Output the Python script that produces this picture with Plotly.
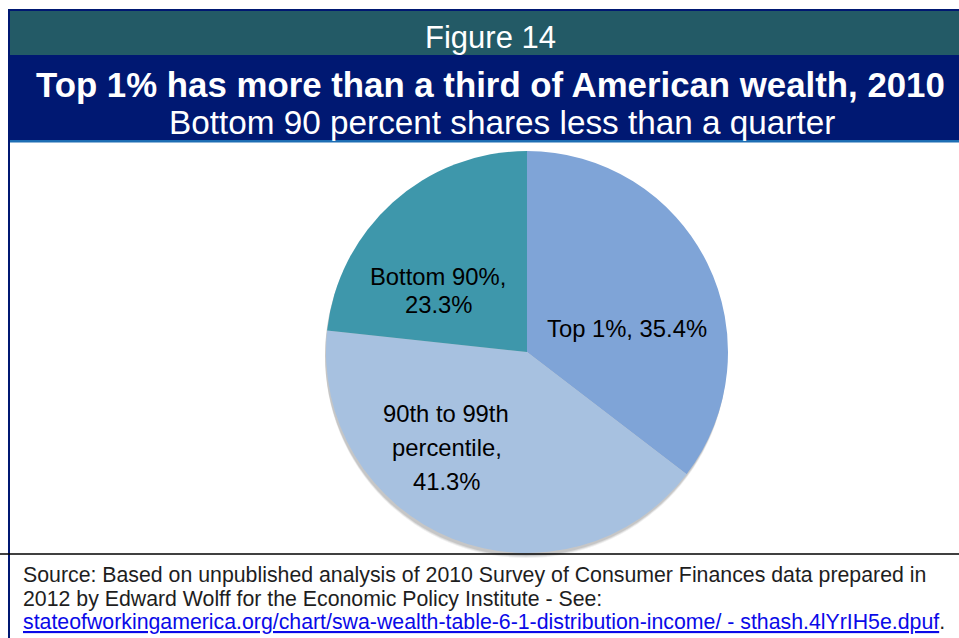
import plotly.graph_objects as go

# ---- data ----
categories = ["Top 1%", "90th to 99th percentile", "Bottom 90%"]
shares = [35.4, 41.3, 23.3]
slice_colors = ["#7FA4D7", "#A7C1E0", "#3E97AB"]

figure_label = "Figure 14"
title_text = "Top 1% has more than a third of American wealth, 2010"
subtitle_text = "Bottom 90 percent shares less than a quarter"
source_lines = [
    "Source: Based on unpublished analysis of 2010 Survey of Consumer Finances data prepared in",
    "2012 by Edward Wolff for the Economic Policy Institute - See:",
]
source_link = "stateofworkingamerica.org/chart/swa-wealth-table-6-1-distribution-income/ - sthash.4lYrIH5e.dpuf"

# label line layout (text lines built from data; positions are styling)
label_lines = [
    [f"{categories[0]}, {shares[0]}%"],
    ["90th to 99th", "percentile,", f"{shares[1]}%"],
    [f"{categories[2]},", f"{shares[2]}%"],
]
label_line_pos = [
    [(627, 328)],
    [(446, 413), (447, 447), (446, 482)],
    [(438, 276), (438, 304)],
]

W, H = 959, 638
def px(x):
    return x / W
def py(y):
    return 1 - y / H

FONT = "Liberation Sans, Arial, Helvetica, sans-serif"

cx, cy, r = 527, 352, 201

fig = go.Figure()
fig.add_trace(go.Pie(
    labels=categories,
    values=shares,
    textinfo="none",
    sort=False,
    direction="clockwise",
    rotation=0,
    marker=dict(colors=slice_colors, line=dict(width=0)),
    domain=dict(x=[px(cx - r), px(cx + r)], y=[py(cy + r), py(cy - r)]),
    showlegend=False,
    hoverinfo="label+percent",
))

shapes = []
# pie shadow
for off, op in [(5, 0.06), (4, 0.08), (3, 0.10)]:
    shapes.append(dict(type="circle", xref="paper", yref="paper", layer="below",
                       x0=px(cx - r - 1), x1=px(cx + r - 1), y0=py(cy + r + off), y1=py(cy - r + off),
                       fillcolor=f"rgba(0,0,0,{op})", line=dict(width=0)))
# header bands
shapes.append(dict(type="rect", xref="paper", yref="paper", layer="below",
                   x0=px(8), x1=1, y0=py(55), y1=py(9), fillcolor="#235A66", line=dict(width=0)))
shapes.append(dict(type="rect", xref="paper", yref="paper", layer="below",
                   x0=px(8), x1=1, y0=py(140), y1=py(55), fillcolor="#001872", line=dict(width=0)))
shapes.append(dict(type="rect", xref="paper", yref="paper", layer="below",
                   x0=px(8), x1=1, y0=py(142.5), y1=py(140), fillcolor="#1E6EB4", line=dict(width=0)))
shapes.append(dict(type="rect", xref="paper", yref="paper", layer="below",
                   x0=px(8), x1=1, y0=py(11), y1=py(9), fillcolor="#001872", line=dict(width=0)))
# left border
shapes.append(dict(type="rect", xref="paper", yref="paper", layer="below",
                   x0=px(8), x1=px(10), y0=0, y1=py(9), fillcolor="#001872", line=dict(width=0)))
# bottom separator line
shapes.append(dict(type="line", xref="paper", yref="paper", layer="below",
                   x0=0, x1=1, y0=py(554), y1=py(554), line=dict(color="#000000", width=1.5)))

annotations = [
    dict(text=figure_label, x=px(490), y=py(37), xref="paper", yref="paper",
         showarrow=False, xanchor="center", yanchor="middle",
         font=dict(family=FONT, size=31, color="#FFFFFF")),
    dict(text="<b>" + title_text + "</b>", x=px(490), y=py(85), xref="paper", yref="paper",
         showarrow=False, xanchor="center", yanchor="middle",
         font=dict(family=FONT, size=34.8, color="#FFFFFF")),
    dict(text=subtitle_text, x=px(502), y=py(123), xref="paper", yref="paper",
         showarrow=False, xanchor="center", yanchor="middle",
         font=dict(family=FONT, size=33.3, color="#FFFFFF")),
]

src_texts = source_lines + ["<span style='color:#0A0AE8'><u>" + source_link + "</u></span>."]
src_y = [575, 599, 622]
for t, yy in zip(src_texts, src_y):
    annotations.append(dict(text=t, x=px(21), y=py(yy), xref="paper", yref="paper",
                            showarrow=False, xanchor="left", yanchor="middle", align="left",
                            font=dict(family=FONT, size=21.3, color="#1E1E1E")))

for lines, poss in zip(label_lines, label_line_pos):
    for t, (lx, ly) in zip(lines, poss):
        annotations.append(dict(text=t, x=px(lx), y=py(ly), xref="paper", yref="paper",
                                showarrow=False, xanchor="center", yanchor="middle",
                                font=dict(family=FONT, size=23.8, color="#000000")))

fig.update_layout(
    width=W, height=H,
    margin=dict(l=0, r=0, t=0, b=0),
    paper_bgcolor="#FFFFFF",
    plot_bgcolor="#FFFFFF",
    shapes=shapes,
    annotations=annotations,
    font=dict(family=FONT),
)

fig.write_html("out.html", config={"displayModeBar": False},
               post_script="document.body.style.margin='0';document.body.style.padding='0';")
